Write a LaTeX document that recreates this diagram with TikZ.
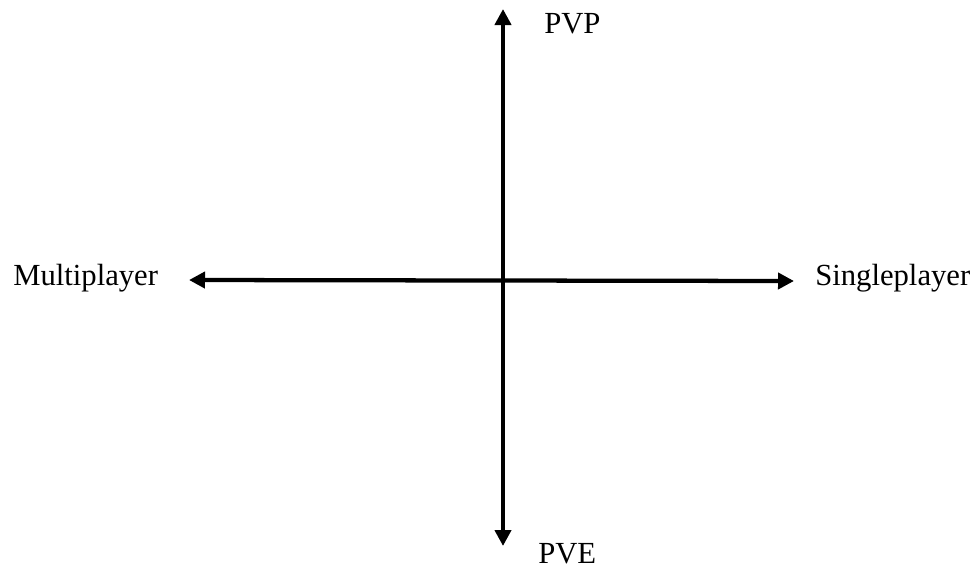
\documentclass[tikz,border=0pt]{standalone}
\usepackage{fontspec}
\setmainfont{Liberation Serif}
\usetikzlibrary{arrows.meta}
\begin{document}
\begin{tikzpicture}[x=0.75pt,y=-0.75pt,
  axis/.style={line width=3.2pt,{Triangle[length=12pt,width=12pt]}-{Triangle[length=12pt,width=12pt]}},
  lab/.style={font=\fontsize{23}{27}\selectfont,anchor=base west,inner sep=0pt}]
\useasboundingbox (0,0) rectangle (978,569);
\coordinate (top) at (503,9);
\coordinate (bot) at (503,546);
\coordinate (left) at (189,280);
\coordinate (right) at (794,281);
\draw[axis] (bot) -- (top);
\draw[axis] (left) -- (right);
\node[lab] (pvp) at (544,33) {PVP};
\node[lab] (pve) at (538,563) {PVE};
\node[lab] (multi) at (13,285) {Multiplayer};
\node[lab] (single) at (815,285) {Singleplayer};
\end{tikzpicture}
\end{document}
